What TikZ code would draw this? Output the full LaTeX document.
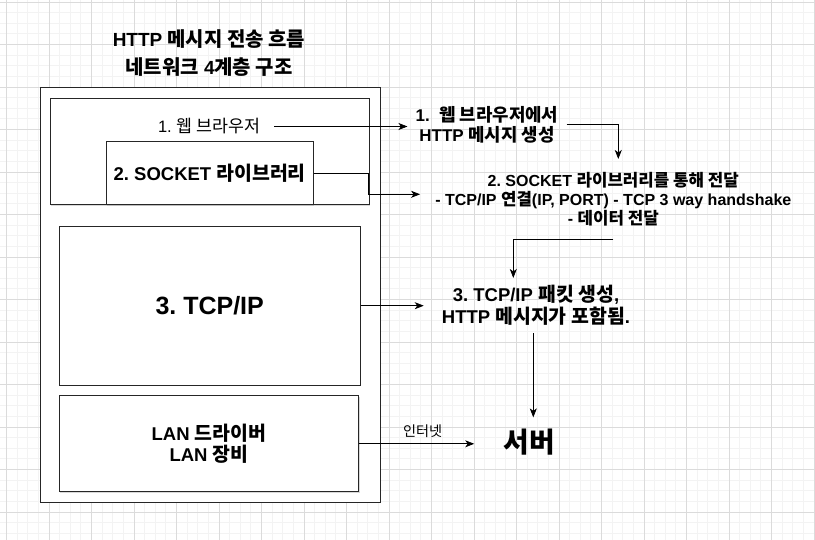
\documentclass[tikz,border=0pt]{standalone}
\usepackage{fontspec}
\setmainfont{Liberation Sans}
\newfontfamily\krfont[Scale=1.05]{Noto Sans CJK KR}
\newcommand\ko[1]{{\krfont #1}}
\usetikzlibrary{arrows.meta}
\usetikzlibrary{shadows}
\definecolor{gridminor}{HTML}{F3F3F3}
\definecolor{gridmajor}{HTML}{DBDBDB}
\frenchspacing
\tikzset{
    layer/.style={draw=black!85, line width=1pt, fill=white,
        drop shadow={shadow xshift=1pt, shadow yshift=-1pt, opacity=0.3}},
    msg/.style={align=center, inner sep=0pt},
    flow/.style={draw=black, line width=0.8pt, -{Stealth[length=9pt,width=7pt,inset=2.5pt]}}
}

\begin{document}
\begin{tikzpicture}[x=1pt, y=-1pt]
            \useasboundingbox (0,0) rectangle (815,540);
            \fill[white] (0,0) rectangle (815,540);
            \foreach \i in {0,...,77}
                \draw[gridminor, line width=0.8pt] ({-4.125+10.625*\i},0) -- ++(0,540);
            \foreach \j in {0,...,50}
                \draw[gridminor, line width=0.8pt] (0,{2+10.625*\j}) -- ++(815,0);
            \foreach \i in {0,...,19}
                \draw[gridmajor, line width=0.8pt] ({6.5+42.5*\i},0) -- ++(0,540);
            \foreach \j in {0,...,12}
                \draw[gridmajor, line width=0.8pt] (0,{2+42.5*\j}) -- ++(815,0);

            \node[msg, font=\bfseries\fontsize{19}{28}\selectfont] (title) at (209,53)
                {HTTP \ko{메시지 전송 흐름}\\\ko{네트워크} 4\ko{계층 구조}};
            \node[layer, minimum width=340pt, minimum height=414pt] (stack) at (210,295) {};
            \node[layer, minimum width=319pt, minimum height=106pt] (browser) at (209.5,152) {};
            \node[inner xsep=14pt, font=\fontsize{16.5}{19}\selectfont] (webtxt) at (209,126.5)
                {1. \ko{웹 브라우저}};
            \node[layer, msg, minimum width=207pt, minimum height=63.5pt,
                font=\bfseries\fontsize{18.5}{21}\selectfont] (socket) at (209.7,173)
                {2. SOCKET \ko{라이브러리}};
            \node[layer, msg, minimum width=300.7pt, minimum height=159.3pt,
                font=\bfseries\fontsize{25}{28}\selectfont] (tcp) at (209.7,305.7) {3. TCP/IP};
            \node[layer, msg, minimum width=299.4pt, minimum height=95.7pt,
                font=\bfseries\fontsize{18.5}{21.6}\selectfont] (lan) at (209,443.8)
                {LAN \ko{드라이버}\\LAN \ko{장비}};

            \node[msg, inner xsep=8pt, font=\bfseries\fontsize{17}{19.3}\selectfont] (msg1) at (487,124.7)
                {1.\ \ \ko{웹 브라우저에서}\\HTTP \ko{메시지 생성}};
            \node[msg, inner xsep=15pt, inner ysep=13pt, font=\bfseries\fontsize{16}{19.2}\selectfont] (msg2) at (613.3,199.3)
                {2. SOCKET \ko{라이브러리를 통해 전달}\\- TCP/IP \ko{연결}(IP, PORT) - TCP 3 way handshake\\- \ko{데이터 전달}};
            \node[msg, inner xsep=18pt, inner ysep=7pt, font=\bfseries\fontsize{18.5}{22.4}\selectfont] (msg3) at (536,305.5)
                {3. TCP/IP \ko{패킷 생성},\\HTTP \ko{메시지가 포함됨}.};
            \node[msg, inner xsep=29pt, inner ysep=11pt, font=\bfseries\fontsize{26.5}{30}\selectfont] (srv) at (529,441.7)
                {\ko{서버}};

            \draw[flow] (webtxt.east) -- (webtxt.east -| msg1.west);
            \draw[flow] (socket.east) -- ++(55,0) |- ([yshift=5pt]msg2.west);
            \draw[flow] (msg1.east) -| ([xshift=5pt]msg2.north);
            \draw[flow] (msg2.south) -| ([xshift=-22.7pt]msg3.north);
            \draw[flow] (tcp.east) -- (tcp.east -| msg3.west);
            \draw[flow] ([xshift=-2.7pt]msg3.south) -- ([xshift=-2.7pt]msg3.south |- srv.north);
            \draw[flow] (lan.east) -- (lan.east -| srv.west)
                node[midway, above=2pt, xshift=6pt, font=\fontsize{13.5}{15}\selectfont] (inet) {\ko{인터넷}};
\end{tikzpicture}
\end{document}
